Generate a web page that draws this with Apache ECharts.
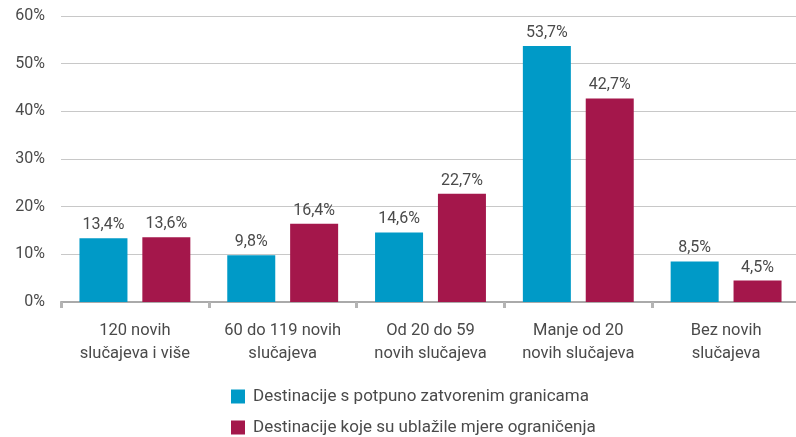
<!DOCTYPE html>
<html>
<head>
<meta charset="utf-8">
<style>
  html, body { margin: 0; padding: 0; background: #fff; }
  #chart { width: 796px; height: 437px; }
</style>
<script src="https://cdn.jsdelivr.net/npm/echarts@6/dist/echarts.min.js"></script>
</head>
<body>
<div id="chart"></div>
<script>
  // kategorije i vrijednosti (%)
  var categories = [
    '120 novih\nslučajeva i više',
    '60 do 119 novih\nslučajeva',
    'Od 20 do 59\nnovih slučajeva',
    'Manje od 20\nnovih slučajeva',
    'Bez novih\nslučajeva'
  ];
  var seriesNames = [
    'Destinacije s potpuno zatvorenim granicama',
    'Destinacije koje su ublažile mjere ograničenja'
  ];
  var closedValues = [13.4, 9.8, 14.6, 53.7, 8.5];
  var easedValues = [13.6, 16.4, 22.7, 42.7, 4.5];
  var yTicks = [0, 10, 20, 30, 40, 50, 60];

  var textColor = '#4a4a4a';
  var fontFamily = 'Roboto, "DejaVu Sans", sans-serif';

  function pct(v) {
    return String(v).replace('.', ',') + '%';
  }

  var myChart = echarts.init(document.getElementById('chart'));
  var labelOpt = {
    show: true,
    position: 'top',
    distance: 5,
    color: textColor,
    fontSize: 16,
    fontFamily: fontFamily,
    formatter: function (p) { return pct(p.value); }
  };
  var option = {
    animation: false,
    color: ['#009ac7', '#a4174b'],
    grid: {
      left: 61, width: 739, top: 16, bottom: 135,
      containLabel: false, outerBoundsMode: 'none'
    },
    legend: {
      orient: 'vertical',
      left: 231,
      top: 388,
      padding: 0,
      itemWidth: 14,
      itemHeight: 14,
      itemGap: 14,
      icon: 'rect',
      textStyle: { color: textColor, fontSize: 17, fontFamily: fontFamily, padding: [0, 0, 0, 3] },
      data: seriesNames
    },
    xAxis: {
      type: 'category',
      data: categories,
      axisLine: { lineStyle: { color: '#aaaaaa', width: 2 } },
      axisTick: { show: true, interval: 0, length: 6, lineStyle: { color: '#b4b4b4', width: 3 } },
      axisLabel: {
        interval: 0,
        hideOverlap: false,
        color: textColor,
        fontSize: 16.5,
        fontFamily: fontFamily,
        margin: 17,
        lineHeight: 23
      }
    },
    yAxis: {
      type: 'value',
      min: yTicks[0],
      max: yTicks[yTicks.length - 1],
      interval: 10,
      axisLine: { show: false },
      axisTick: { show: false },
      splitLine: { lineStyle: { color: '#c8c8c8', width: 1 } },
      axisLabel: {
        color: textColor,
        fontSize: 16,
        fontFamily: fontFamily,
        margin: 16,
        formatter: '{value}%'
      }
    },
    series: [{
      name: seriesNames[0],
      type: 'bar',
      barWidth: 48,
      barGap: '31%',
      data: closedValues,
      label: labelOpt
    }, {
      name: seriesNames[1],
      type: 'bar',
      barWidth: 48,
      barGap: '31%',
      data: easedValues,
      label: labelOpt
    }]
  };
  myChart.setOption(option);
</script>
</body>
</html>
